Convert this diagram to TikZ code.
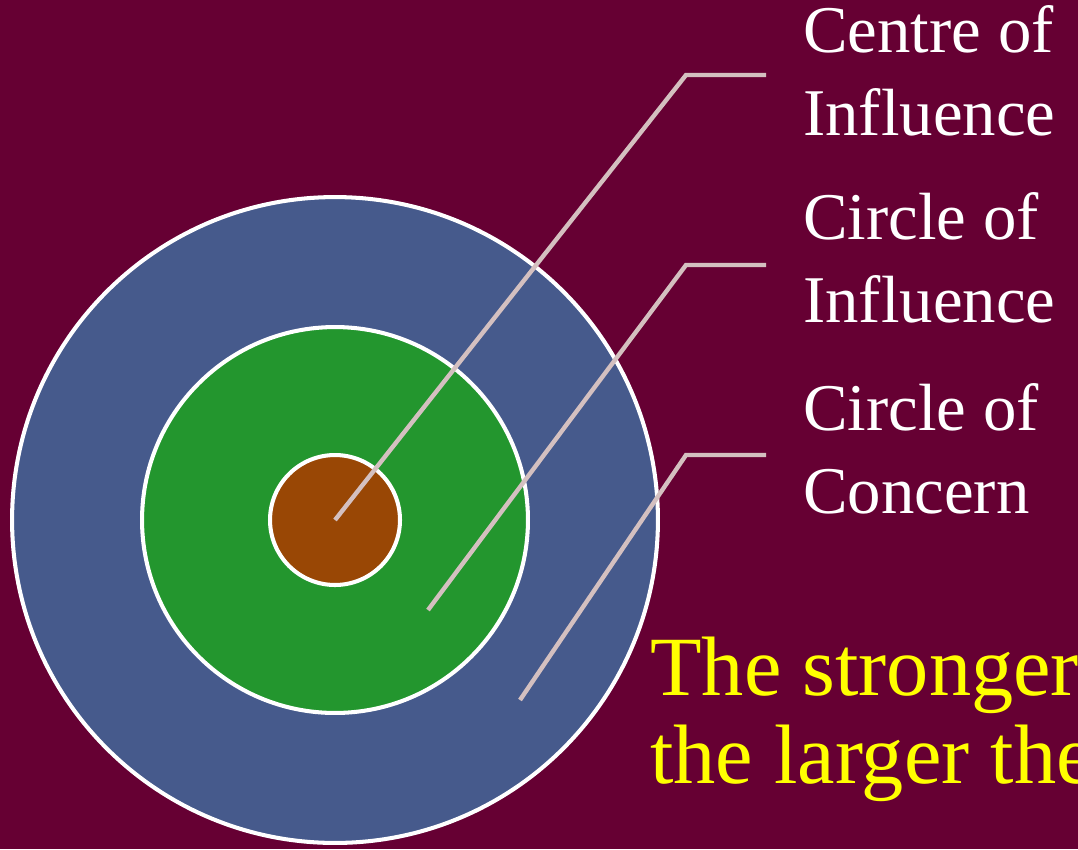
\documentclass[tikz,border=0pt]{standalone}
\usepackage{fontspec}
\setmainfont{Liberation Serif}
\usetikzlibrary{positioning}
\usepackage{xcolor}

\definecolor{slide}{HTML}{660033}
\definecolor{concernblue}{HTML}{465A8C}
\definecolor{influencegreen}{HTML}{23962E}
\definecolor{centrebrown}{HTML}{994705}
\definecolor{leaderpink}{HTML}{D4C0C0}
\definecolor{noteyellow}{HTML}{FFFF00}

\begin{document}
\begin{tikzpicture}[
    x=0.02cm, y=-0.02cm,
    ring/.style={draw=white, line width=2.3pt, circle, inner sep=0pt},
    tag/.style={text=white, font=\fontsize{38}{47}\selectfont, align=left, anchor=base west, inner sep=0pt},
    leader/.style={draw=leaderpink, line width=2.5pt}
]

% Hintergrund
\fill[slide] (0,0) rectangle (1078,849);
\useasboundingbox (0,0) rectangle (1078,849);

% Kreise
\node[ring, fill=concernblue, minimum size=12.92cm] (concern) at (335,520) {};
\node[ring, fill=influencegreen, minimum size=7.72cm] (influence) at (335,520) {};
\node[ring, fill=centrebrown, minimum size=2.6cm] (centre) at (335,520) {};

% Beschriftungen (base = letzte Zeile)
\node[tag] (centrelbl) at (803,135) {Centre of\\Influence};
\node[tag] (influencelbl) at (803,322) {Circle of\\Influence};
\node[tag] (concernlbl) at (803,513) {Circle of\\Concern};

\node[text=noteyellow, font=\fontsize{48}{50}\selectfont, align=left, anchor=base west, inner sep=0pt]
    (note) at (650,783) {The stronger\\the larger the};

% Hilfspunkte
\coordinate (influencept) at (428,610);
\coordinate (concernpt) at (520,700);
\coordinate (centrebend) at (686,75);
\coordinate (influencebend) at (686,265);
\coordinate (concernbend) at (686,455);
\coordinate (centreend) at (766,75);
\coordinate (influenceend) at (766,265);
\coordinate (concernend) at (766,455);

% Linien
\draw[leader] (centre.center) -- (centrebend) -- (centreend);
\draw[leader] (influencept) -- (influencebend) -- (influenceend);
\draw[leader] (concernpt) -- (concernbend) -- (concernend);

\end{tikzpicture}
\end{document}
